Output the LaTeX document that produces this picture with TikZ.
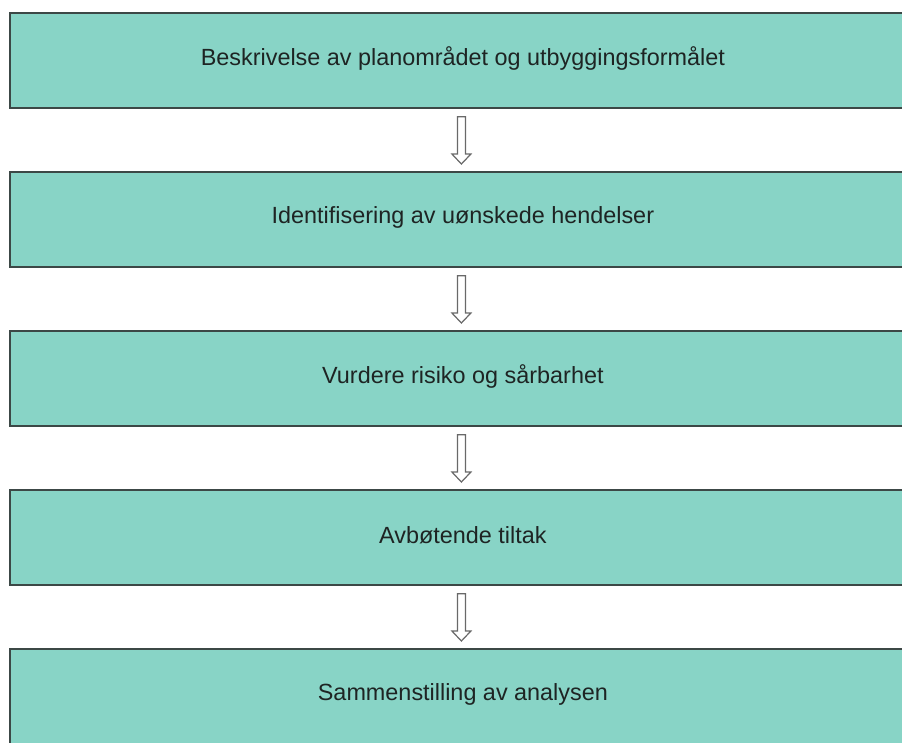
\documentclass[tikz,border=0pt]{standalone}
\usepackage{fontspec}
\setmainfont{Liberation Sans}
\usetikzlibrary{calc}
\definecolor{boxfill}{RGB}{136,212,198}
\definecolor{boxline}{RGB}{60,72,70}
\definecolor{arrline}{RGB}{105,105,105}
\definecolor{txt}{RGB}{30,36,35}
\begin{document}
\begin{tikzpicture}[x=1pt,y=-1pt,
  stepbox/.style={draw=boxline, line width=1.8pt, fill=boxfill, minimum width=906pt, minimum height=95pt, inner sep=0pt, anchor=north west, text=txt, font=\fontsize{23.4}{27}\selectfont},
  steptext/.style={inner sep=0pt, text=txt, font=\fontsize{23.4}{27}\selectfont},
  blockarrow/.style={draw=arrline, line width=1.2pt, fill=white, line join=miter}
]
\useasboundingbox (0,0) rectangle (902,742);
\begin{scope}
\clip (0,0) rectangle (902,742);
\node[stepbox] (b1) at (9,12) {};
\node[stepbox] (b2) at (9,171) {};
\node[stepbox] (b3) at (9,330) {};
\node[stepbox] (b4) at (9,489) {};
\node[stepbox] (b5) at (9,648) {};
\end{scope}
\node[steptext] (t1) at ($(b1.center)+(0,-2)$) {Beskrivelse av planområdet og utbyggingsformålet};
\node[steptext] (t2) at ($(b2.center)+(0,-2)$) {Identifisering av uønskede hendelser};
\node[steptext] (t3) at ($(b3.center)+(0,-2)$) {Vurdere risiko og sårbarhet};
\node[steptext] (t4) at ($(b4.center)+(0,-2)$) {Avbøtende tiltak};
\node[steptext] (t5) at ($(b5.center)+(0,-2)$) {Sammenstilling av analysen};
\foreach \a/\b in {b1/b2,b2/b3,b3/b4,b4/b5}{
  \coordinate (s) at ($(\a.south)+(-1.5,8)$);
  \coordinate (t) at ($(\b.north)+(-1.5,-7)$);
  \draw[blockarrow] ($(s)+(-4,0)$) -- ($(s)+(4,0)$) -- ($(t)+(4,-10)$) -- ($(t)+(9.5,-10)$) -- (t) -- ($(t)+(-9.5,-10)$) -- ($(t)+(-4,-10)$) -- cycle;
}
\end{tikzpicture}
\end{document}
